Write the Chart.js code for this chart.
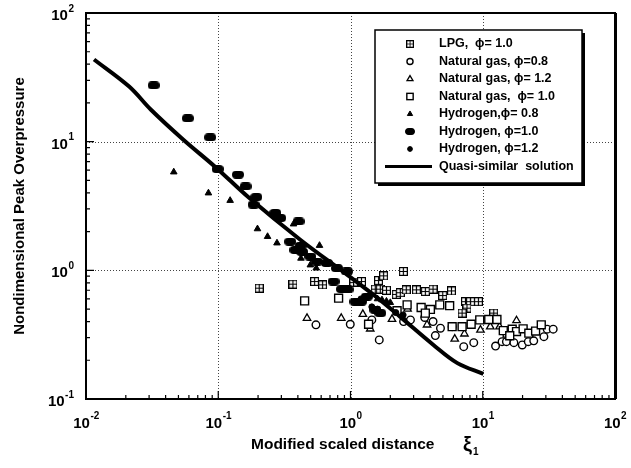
<!DOCTYPE html>
<html>
<head>
<meta charset="utf-8">
<script src="https://cdn.jsdelivr.net/npm/chart.js@4/dist/chart.umd.min.js"></script>
<style>
body{margin:0;background:#fff;}
canvas{display:block;}
</style>
</head>
<body>
<canvas id="grafik" width="631" height="468"></canvas>
<script>
// values (log-log axes)
const lineX = [0.0115, 0.0212, 0.031, 0.0542, 0.0964, 0.171, 0.417, 0.946, 1.6, 2.38, 4.24, 6.43, 10.1];
const lineY = [43.5, 26.8, 17.7, 10.4, 6.28, 3.66, 1.73, 0.923, 0.611, 0.435, 0.263, 0.19, 0.157];

const lpgX = [0.204, 0.367, 0.535, 0.615, 1.06, 1.13, 1.21, 1.54, 1.68, 1.87, 1.63, 1.78, 2.22, 2.38, 2.64, 2.51, 3.15, 3.68, 4.21, 4.98, 5.8, 7.4, 8.07, 8.65, 9.27, 7.6, 6.98, 12.1];
const lpgY = [0.727, 0.781, 0.818, 0.771, 0.803, 0.81, 0.818, 0.714, 0.714, 0.70, 0.833, 0.906, 0.65, 0.67, 0.705, 0.98, 0.705, 0.684, 0.714, 0.637, 0.692, 0.571, 0.571, 0.571, 0.571, 0.508, 0.465, 0.465];

const ng08X = [0.548, 0.996, 1.45, 1.65, 2.52, 2.84, 3.64, 4.21, 4.79, 4.38, 5.87, 7.18, 8.55, 12.5, 14.0, 15.1, 17.2, 19.9, 22.1, 24.3, 29.0, 30.7, 34.1];
const ng08Y = [0.377, 0.381, 0.412, 0.288, 0.40, 0.412, 0.43, 0.40, 0.355, 0.311, 0.365, 0.255, 0.274, 0.258, 0.279, 0.279, 0.274, 0.263, 0.279, 0.283, 0.305, 0.349, 0.349];

const ng12X = [0.469, 0.851, 1.24, 1.41, 2.06, 2.7, 3.79, 6.14, 7.27, 9.61, 11.4, 13.4, 18.0];
const ng12Y = [0.425, 0.425, 0.456, 0.351, 0.417, 0.50, 0.377, 0.293, 0.321, 0.344, 0.365, 0.365, 0.407];

const ng10X = [0.45, 0.813, 1.37, 2.25, 2.68, 3.42, 4.02, 4.73, 5.62, 3.68, 5.87, 6.98, 8.17, 9.49, 11.1, 12.8, 15.3, 14.3, 16.7, 18.0, 20.2, 22.3, 25.1, 27.7, 16.0];
const ng10Y = [0.579, 0.608, 0.381, 0.486, 0.539, 0.514, 0.497, 0.539, 0.531, 0.465, 0.365, 0.365, 0.381, 0.412, 0.415, 0.415, 0.325, 0.34, 0.349, 0.334, 0.351, 0.325, 0.337, 0.377, 0.31];

const h08X = [0.0461, 0.0843, 0.123, 0.198, 0.236, 0.278, 0.371, 0.422, 0.583, 0.497, 0.551, 1.6, 1.73, 1.87, 2.0];
const h08Y = [5.81, 3.99, 3.49, 2.1, 1.83, 1.63, 2.29, 1.24, 1.56, 1.10, 1.04, 0.60, 0.589, 0.575, 0.561];

const h10X = [0.0325, 0.0589, 0.0869, 0.099, 0.141, 0.161, 0.194, 0.185, 0.27, 0.294, 0.405, 0.35, 0.383, 0.42, 0.431, 0.497, 0.557, 0.664, 0.79, 0.94, 0.745, 0.863, 0.95, 1.09, 1.2, 1.33, 1.54, 1.68];
const h10Y = [27.4, 15.2, 10.8, 6.13, 5.54, 4.49, 3.71, 3.24, 2.79, 2.55, 2.4, 1.67, 1.44, 1.55, 1.39, 1.28, 1.17, 1.14, 1.04, 0.98, 0.818, 0.714, 0.71, 0.571, 0.571, 0.625, 0.493, 0.465];

const h12X = [1.2, 1.45, 1.6, 2.2, 2.5];
const h12Y = [0.6, 0.52, 0.5, 0.47, 0.45];

const legendLabels = ['LPG,  ϕ= 1.0', 'Natural gas, ϕ=0.8', 'Natural gas, ϕ= 1.2', 'Natural gas,  ϕ= 1.0',
  'Hydrogen,ϕ= 0.8', 'Hydrogen, ϕ=1.0', 'Hydrogen, ϕ=1.2', 'Quasi-similar  solution'];
const xTickExp = [-2, -1, 0, 1, 2];
const yTickExp = [-1, 0, 1, 2];

const FONT = '"Liberation Sans", Arial, sans-serif';

function pts(xs, ys){
  return xs.map((x, i) => ({x: x, y: ys[i]}));
}

// small canvases used as point styles
function blobImg(){
  const c = document.createElement('canvas');
  c.width = 12; c.height = 8;
  const g = c.getContext('2d');
  g.fillStyle = '#000';
  g.beginPath();
  g.moveTo(4, 0); g.lineTo(8, 0); g.arc(8, 4, 4, -Math.PI/2, Math.PI/2);
  g.lineTo(4, 8); g.arc(4, 4, 4, Math.PI/2, Math.PI*1.5);
  g.fill();
  return c;
}
function crossBoxImg(){
  const c = document.createElement('canvas');
  c.width = 9; c.height = 9;
  const g = c.getContext('2d');
  g.fillStyle = '#fff';
  g.fillRect(0, 0, 9, 9);
  g.strokeStyle = '#000';
  g.lineWidth = 1.2;
  g.strokeRect(0.6, 0.6, 7.8, 7.8);
  g.beginPath();
  g.moveTo(4.5, 0.6); g.lineTo(4.5, 8.4);
  g.moveTo(0.6, 4.5); g.lineTo(8.4, 4.5);
  g.stroke();
  return c;
}
const blob = blobImg();
const crossBox = crossBoxImg();

const sets = [
  {label: legendLabels[0], data: pts(lpgX, lpgY), pointStyle: crossBox, order: 5},
  {label: legendLabels[1], data: pts(ng08X, ng08Y), pointStyle: 'circle', pointRadius: 3.8, borderWidth: 1.4, backgroundColor: '#fff', order: 4},
  {label: legendLabels[2], data: pts(ng12X, ng12Y), pointStyle: 'triangle', pointRadius: 4.3, borderWidth: 1.3, backgroundColor: '#fff', order: 4},
  {label: legendLabels[3], data: pts(ng10X, ng10Y), pointStyle: 'rect', pointRadius: 5.6, borderWidth: 1.4, backgroundColor: '#fff', order: 3},
  {label: legendLabels[4], data: pts(h08X, h08Y), pointStyle: 'triangle', pointRadius: 3.8, borderWidth: 1, backgroundColor: '#000', order: 2},
  {label: legendLabels[5], data: pts(h10X, h10Y), pointStyle: blob, order: 2},
  {label: legendLabels[6], data: pts(h12X, h12Y), pointStyle: 'circle', pointRadius: 3, borderWidth: 1, backgroundColor: '#000', order: 2},
  {label: legendLabels[7], data: pts(lineX, lineY), showLine: true, pointRadius: 0, borderWidth: 4,
    borderColor: '#000', tension: 0.35, order: 0}
];
sets.forEach(s => {
  if (!s.borderColor) s.borderColor = '#000';
  if (s.pointRadius === undefined) s.pointRadius = 4;
});

function pow10(e){ return Math.pow(10, e); }

const decor = {
  id: 'decor',
  beforeDatasetsDraw(chart){
    const {ctx, chartArea: a, scales: {x, y}} = chart;
    ctx.save();
    ctx.strokeStyle = '#444';
    ctx.lineWidth = 1;
    ctx.setLineDash([1, 2]);
    ctx.beginPath();
    xTickExp.forEach(e => {
      const px = Math.round(x.getPixelForValue(pow10(e))) + 0.5;
      ctx.moveTo(px, a.top); ctx.lineTo(px, a.bottom);
    });
    yTickExp.forEach(e => {
      const py = Math.round(y.getPixelForValue(pow10(e))) + 0.5;
      ctx.moveTo(a.left, py); ctx.lineTo(a.right, py);
    });
    ctx.stroke();
    ctx.restore();
  },
  afterDraw(chart){
    const {ctx, chartArea: a, scales: {x, y}} = chart;
    ctx.save();
    // inward ticks
    ctx.strokeStyle = '#000';
    ctx.lineWidth = 1.2;
    ctx.beginPath();
    for (let e = -2; e < 2; e++) {
      for (let d = 1; d < 10; d++) {
        const px = x.getPixelForValue(d * pow10(e));
        const len = d === 1 ? 8 : 4;
        ctx.moveTo(px, a.bottom); ctx.lineTo(px, a.bottom - len);
      }
    }
    for (let e = -1; e < 2; e++) {
      for (let d = 1; d < 10; d++) {
        const py = y.getPixelForValue(d * pow10(e));
        const len = d === 1 ? 8 : 4;
        ctx.moveTo(a.left, py); ctx.lineTo(a.left + len, py);
      }
    }
    ctx.stroke();

    // frame
    ctx.lineWidth = 2;
    ctx.strokeRect(a.left, a.top, a.right - a.left, a.bottom - a.top);
    ctx.lineWidth = 3;
    ctx.beginPath();
    ctx.moveTo(a.right + 0.5, a.top); ctx.lineTo(a.right + 0.5, a.bottom);
    ctx.stroke();

    // tick labels 10^n
    ctx.fillStyle = '#000';
    ctx.textBaseline = 'middle';
    const big = 'bold 15px ' + FONT, small = 'bold 10px ' + FONT;
    yTickExp.forEach(e => {
      const py = y.getPixelForValue(pow10(e));
      const ex = String(e);
      ctx.font = small;
      const ew = ctx.measureText(ex).width;
      ctx.textAlign = 'left';
      ctx.fillText(ex, 74 - ew, py - 4);
      ctx.font = big;
      ctx.textAlign = 'right';
      ctx.fillText('10', 74 - ew - 0.5, py + 3);
    });
    xTickExp.forEach(e => {
      const px = x.getPixelForValue(pow10(e));
      const ex = String(e);
      ctx.font = small;
      const ew = ctx.measureText(ex).width;
      ctx.font = big;
      const tw = ctx.measureText('10').width;
      const start = px - (tw + ew) / 2;
      ctx.textAlign = 'left';
      ctx.fillText('10', start, 424);
      ctx.font = small;
      ctx.fillText(ex, start + tw + 0.5, 416);
    });

    // axis titles
    const ty = 445;
    ctx.font = 'bold 15.5px ' + FONT;
    ctx.textAlign = 'left';
    ctx.fillText('Modified scaled distance', 251, ty);
    ctx.font = 'bold 20px ' + FONT;
    ctx.fillText('ξ', 463, ty);
    ctx.font = 'bold 10px ' + FONT;
    ctx.fillText('1', 473, ty + 7);
    ctx.save();
    ctx.translate(20, 206);
    ctx.rotate(-Math.PI / 2);
    ctx.font = 'bold 15px ' + FONT;
    ctx.textAlign = 'center';
    ctx.fillText('Nondimensional Peak Overpressure', 0, 0);
    ctx.restore();

    // legend box
    const L = 375, T = 30, R = 582, B = 183;
    ctx.fillStyle = '#000';
    ctx.fillRect(L + 3, T + 3, R - L, B - T);
    ctx.fillStyle = '#fff';
    ctx.fillRect(L, T, R - L, B - T);
    ctx.strokeStyle = '#000';
    ctx.lineWidth = 1.5;
    ctx.strokeRect(L, T, R - L, B - T);

    const sx = 410, tx = 439;
    sets.forEach((s, i) => {
      const cy = 44 + i * 17.5;
      ctx.lineWidth = s.borderWidth || 1;
      ctx.strokeStyle = '#000';
      ctx.fillStyle = s.backgroundColor || '#000';
      const st = s.pointStyle;
      if (i === 7) {
        ctx.lineWidth = 3;
        ctx.beginPath();
        ctx.moveTo(385, cy); ctx.lineTo(432, cy);
        ctx.stroke();
      } else if (st instanceof HTMLCanvasElement) {
        const w = st.width * 0.8, h = st.height * 0.8;
        ctx.drawImage(st, sx - w / 2, cy - h / 2, w, h);
      } else if (st === 'circle') {
        const r = s.pointRadius * 0.8;
        ctx.beginPath(); ctx.arc(sx, cy, r, 0, Math.PI * 2);
        ctx.fill(); ctx.stroke();
      } else if (st === 'rect') {
        const h = s.pointRadius * Math.SQRT1_2 * 0.8;
        ctx.fillRect(sx - h, cy - h, 2 * h, 2 * h);
        ctx.strokeRect(sx - h, cy - h, 2 * h, 2 * h);
      } else if (st === 'triangle') {
        const r = s.pointRadius * 0.8;
        ctx.beginPath();
        ctx.moveTo(sx, cy - r);
        ctx.lineTo(sx + r * 0.87, cy + r * 0.5);
        ctx.lineTo(sx - r * 0.87, cy + r * 0.5);
        ctx.closePath();
        ctx.fill(); ctx.stroke();
      }
      ctx.fillStyle = '#000';
      ctx.font = 'bold 12.5px ' + FONT;
      ctx.textAlign = 'left';
      ctx.textBaseline = 'middle';
      ctx.fillText(s.label, tx, cy);
    });
    ctx.restore();
  }
};

const ctx = document.getElementById('grafik');

const chart = new Chart(ctx, {
  type: 'scatter',
  data: {datasets: sets},
  options: {
    responsive: false,
    animation: false,
    layout: {padding: {top: 13, right: 16, left: 0, bottom: 0}},
    plugins: {legend: {display: false}, tooltip: {enabled: false}},
    scales: {
      x: {
        type: 'logarithmic', min: 0.01, max: 100,
        grid: {display: false}, border: {display: false},
        ticks: {display: false},
        afterFit: s => { s.height = 69; }
      },
      y: {
        type: 'logarithmic', min: 0.1, max: 100,
        grid: {display: false}, border: {display: false},
        ticks: {display: false},
        afterFit: s => { s.width = 86; }
      }
    }
  },
  plugins: [decor]
});
</script>
</body>
</html>
